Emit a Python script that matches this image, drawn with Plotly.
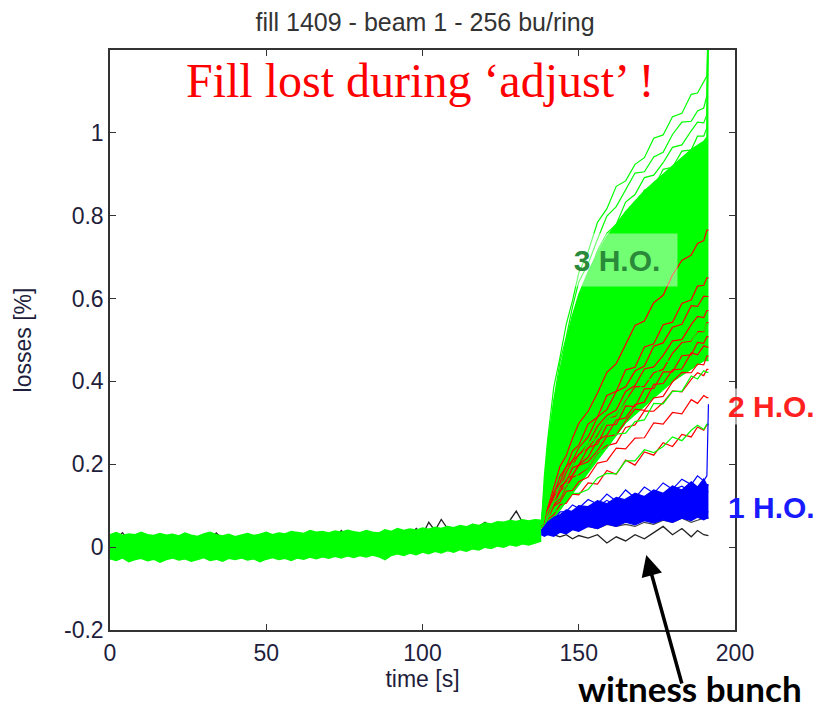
import plotly.graph_objects as go

# ---------------- data ----------------
t_base = [0, 2, 4, 6, 8, 10, 12, 14, 16, 18, 20, 22, 24, 26, 28, 30, 32, 34, 36, 38,
          40, 42, 44, 46, 48, 50, 52, 54, 56, 58, 60, 62, 64, 66, 68, 70, 72, 74, 76, 78,
          80, 82, 84, 86, 88, 90, 92, 94, 96, 98, 100, 102, 104, 106, 108, 110, 112, 114, 116, 118,
          120, 122, 124, 126, 128, 130, 132, 134, 136, 138]

band_upper = [0.030, 0.035, 0.028, 0.032, 0.030, 0.036, 0.030, 0.028, 0.033, 0.029,
              0.031, 0.027, 0.034, 0.029, 0.026, 0.032, 0.036, 0.030, 0.027, 0.031,
              0.025, 0.029, 0.033, 0.028, 0.031, 0.036, 0.030, 0.034, 0.032, 0.038,
              0.035, 0.033, 0.040, 0.036, 0.038, 0.034, 0.039, 0.036, 0.041, 0.037,
              0.035, 0.040, 0.036, 0.034, 0.042, 0.038, 0.045, 0.040, 0.044, 0.041,
              0.046, 0.043, 0.048, 0.045, 0.050, 0.047, 0.052, 0.049, 0.055, 0.052,
              0.058, 0.056, 0.061, 0.060, 0.064, 0.062, 0.066, 0.063, 0.066, 0.065]
band_lower = [-0.028, -0.032, -0.026, -0.035, -0.030, -0.027, -0.033, -0.029, -0.036, -0.030,
              -0.026, -0.031, -0.028, -0.034, -0.030, -0.025, -0.032, -0.029, -0.034, -0.027,
              -0.030, -0.026, -0.031, -0.028, -0.035, -0.029, -0.025, -0.030, -0.027, -0.032,
              -0.026, -0.029, -0.024, -0.028, -0.023, -0.027, -0.022, -0.026, -0.021, -0.025,
              -0.020, -0.024, -0.019, -0.023, -0.030, -0.020, -0.016, -0.020, -0.014, -0.018,
              -0.012, -0.016, -0.010, -0.014, -0.008, -0.012, -0.006, -0.010, -0.004, -0.007,
              0.000, -0.003, 0.003, 0.000, 0.006, 0.003, 0.008, 0.005, 0.010, 0.015]
witness_base = [0.010, 0.020, 0.035, 0.015, 0.020, 0.010, 0.025, 0.015, 0.020, 0.010,
                0.030, 0.020, 0.015, 0.010, 0.020, 0.025, 0.015, 0.034, 0.020, 0.010,
                0.020, 0.015, 0.025, 0.020, 0.030, 0.015, 0.020, 0.010, 0.025, 0.020,
                0.015, 0.030, 0.020, 0.025, 0.015, 0.030, 0.020, 0.040, 0.025, 0.030,
                0.020, 0.035, 0.025, 0.030, 0.020, 0.030, 0.025, 0.035, 0.030, 0.045,
                0.030, 0.060, 0.040, 0.067, 0.045, 0.040, 0.050, 0.045, 0.055, 0.050,
                0.060, 0.050, 0.055, 0.050, 0.065, 0.087, 0.060, 0.055, 0.060, 0.050]

t_rise = [138, 139, 140, 142, 144, 146, 148, 150, 153, 156, 159, 162, 165, 168, 171,
          174, 177, 180, 183, 186, 188, 190, 191, 191.5]

witness_rise = [0.050, 0.045, 0.035, 0.030, 0.025, 0.030, 0.020, 0.028, 0.022, 0.030, 0.010, 0.025,
                0.015, 0.030, 0.020, 0.035, 0.050, 0.030, 0.045, 0.025, 0.040, 0.030, 0.028, 0.028]
witness2_rise = [0.050, 0.050, 0.045, 0.040, 0.050, 0.045, 0.050, 0.045, 0.050, 0.045, 0.055, 0.050,
                 0.055, 0.050, 0.060, 0.055, 0.065, 0.060, 0.070, 0.060, 0.065, 0.070, 0.070, 0.070]

# 3 H.O. bunches (green): dense envelope + individual bunches
ho3_mass_upper = [0.05, 0.15, 0.24, 0.35, 0.43, 0.50, 0.56, 0.61, 0.665, 0.71, 0.75, 0.78,
                  0.81, 0.835, 0.86, 0.88, 0.90, 0.92, 0.94, 0.96, 0.97, 0.98, 0.99, 1.30]
ho3_mass_lower = [0.04, 0.04, 0.05, 0.07, 0.09, 0.11, 0.13, 0.15, 0.18, 0.21, 0.24, 0.27,
                  0.30, 0.32, 0.34, 0.36, 0.38, 0.40, 0.415, 0.43, 0.44, 0.45, 0.45, 0.45]
ho3_lines = [
    [0.05, 0.173, 0.256, 0.386, 0.458, 0.538, 0.595, 0.662, 0.713, 0.784, 0.817, 0.871,
     0.884, 0.924, 0.940, 0.987, 0.995, 1.039, 1.047, 1.093, 1.096, 1.126, 1.137, 1.30],
    [0.05, 0.154, 0.238, 0.354, 0.447, 0.507, 0.580, 0.640, 0.684, 0.743, 0.799, 0.822,
     0.864, 0.903, 0.906, 0.942, 0.953, 0.996, 1.026, 1.028, 1.053, 1.060, 1.090, 1.30],
    [0.05, 0.137, 0.225, 0.342, 0.414, 0.494, 0.559, 0.598, 0.652, 0.716, 0.758, 0.779,
     0.833, 0.851, 0.892, 0.898, 0.928, 0.965, 0.971, 1.005, 1.026, 1.024, 1.044, 1.30],
    [0.05, 0.128, 0.213, 0.315, 0.405, 0.466, 0.537, 0.574, 0.648, 0.676, 0.735, 0.753,
     0.810, 0.816, 0.862, 0.867, 0.912, 0.917, 0.956, 0.959, 0.992, 0.992, 1.012, 1.30],
]
ho3_low_lines = [
    [0.05, 0.047, 0.070, 0.085, 0.091, 0.114, 0.130, 0.130, 0.139, 0.167, 0.178, 0.177,
     0.208, 0.208, 0.235, 0.228, 0.243, 0.266, 0.257, 0.282, 0.294, 0.284, 0.297, 0.297],
    [0.05, 0.053, 0.070, 0.107, 0.121, 0.150, 0.155, 0.179, 0.193, 0.230, 0.239, 0.273,
     0.275, 0.303, 0.307, 0.347, 0.346, 0.376, 0.376, 0.413, 0.406, 0.426, 0.422, 0.422],
    [0.05, 0.048, 0.084, 0.111, 0.150, 0.166, 0.200, 0.208, 0.252, 0.263, 0.309, 0.313,
     0.360, 0.360, 0.404, 0.406, 0.448, 0.449, 0.489, 0.493, 0.524, 0.522, 0.539, 0.539],
]

# 2 H.O. bunches (red)
ho2_lines = [
    [0.05, 0.048, 0.068, 0.078, 0.102, 0.106, 0.128, 0.126, 0.155, 0.152, 0.185, 0.176,
     0.210, 0.198, 0.230, 0.222, 0.252, 0.243, 0.272, 0.266, 0.290, 0.282, 0.295, 0.295],
    [0.05, 0.053, 0.066, 0.099, 0.109, 0.135, 0.137, 0.158, 0.169, 0.203, 0.208, 0.239,
     0.237, 0.263, 0.264, 0.300, 0.297, 0.325, 0.322, 0.356, 0.347, 0.366, 0.361, 0.361],
    [0.05, 0.047, 0.079, 0.103, 0.117, 0.146, 0.169, 0.175, 0.192, 0.227, 0.245, 0.251,
     0.289, 0.295, 0.329, 0.328, 0.349, 0.377, 0.375, 0.405, 0.421, 0.414, 0.429, 0.429],
    [0.05, 0.054, 0.074, 0.099, 0.136, 0.147, 0.174, 0.197, 0.206, 0.233, 0.267, 0.271,
     0.304, 0.333, 0.330, 0.360, 0.364, 0.399, 0.422, 0.421, 0.442, 0.440, 0.461, 0.461],
    [0.05, 0.053, 0.074, 0.115, 0.133, 0.165, 0.173, 0.199, 0.217, 0.258, 0.270, 0.307,
     0.312, 0.344, 0.350, 0.393, 0.395, 0.428, 0.430, 0.469, 0.464, 0.486, 0.483, 0.483],
    [0.05, 0.048, 0.082, 0.107, 0.144, 0.158, 0.191, 0.198, 0.240, 0.249, 0.294, 0.296,
     0.341, 0.339, 0.382, 0.383, 0.423, 0.423, 0.462, 0.464, 0.494, 0.492, 0.508, 0.508],
    [0.05, 0.054, 0.079, 0.110, 0.152, 0.167, 0.198, 0.224, 0.238, 0.270, 0.308, 0.317,
     0.354, 0.387, 0.388, 0.421, 0.429, 0.468, 0.494, 0.497, 0.520, 0.520, 0.542, 0.542],
    [0.05, 0.047, 0.088, 0.122, 0.144, 0.181, 0.210, 0.222, 0.249, 0.292, 0.318, 0.331,
     0.376, 0.390, 0.430, 0.435, 0.463, 0.498, 0.501, 0.537, 0.557, 0.554, 0.571, 0.571],
    [0.05, 0.053, 0.081, 0.132, 0.156, 0.195, 0.208, 0.240, 0.266, 0.314, 0.332, 0.376,
     0.387, 0.425, 0.437, 0.485, 0.493, 0.531, 0.538, 0.583, 0.581, 0.606, 0.605, 0.605],
    [0.05, 0.048, 0.091, 0.126, 0.171, 0.193, 0.232, 0.246, 0.297, 0.314, 0.366, 0.376,
     0.428, 0.434, 0.483, 0.491, 0.537, 0.543, 0.588, 0.597, 0.630, 0.632, 0.650, 0.650],
    [0.05, 0.054, 0.093, 0.141, 0.195, 0.221, 0.263, 0.299, 0.328, 0.372, 0.422, 0.443,
     0.491, 0.535, 0.546, 0.590, 0.608, 0.657, 0.692, 0.705, 0.733, 0.740, 0.765, 0.765],
]

# 1 H.O. bunches (blue)
ho1_band_upper = [0.04, 0.05, 0.06, 0.072, 0.078, 0.09, 0.086, 0.10, 0.098, 0.112, 0.105, 0.12,
                  0.114, 0.13, 0.122, 0.138, 0.13, 0.148, 0.138, 0.158, 0.145, 0.165, 0.15, 0.15]
ho1_band_lower = [0.03, 0.026, 0.03, 0.026, 0.036, 0.032, 0.042, 0.038, 0.05, 0.045, 0.056, 0.05,
                  0.06, 0.054, 0.064, 0.058, 0.066, 0.06, 0.07, 0.064, 0.072, 0.066, 0.07, 0.07]
ho1_lines = [
    [0.04, 0.043, 0.058, 0.065, 0.085, 0.086, 0.102, 0.094, 0.115, 0.104, 0.128, 0.111,
     0.138, 0.119, 0.145, 0.130, 0.155, 0.140, 0.164, 0.151, 0.172, 0.160, 0.172, 0.345],
    [0.04, 0.037, 0.050, 0.057, 0.057, 0.074, 0.084, 0.078, 0.077, 0.096, 0.098, 0.089,
     0.111, 0.103, 0.122, 0.106, 0.115, 0.130, 0.114, 0.131, 0.139, 0.124, 0.134, 0.134],
    [0.035, 0.038, 0.033, 0.048, 0.044, 0.058, 0.048, 0.058, 0.053, 0.072, 0.063, 0.080,
     0.066, 0.078, 0.066, 0.090, 0.075, 0.091, 0.076, 0.099, 0.083, 0.094, 0.085, 0.085],
    [0.04, 0.046, 0.046, 0.054, 0.077, 0.074, 0.088, 0.098, 0.088, 0.098, 0.113, 0.100,
     0.116, 0.129, 0.111, 0.126, 0.116, 0.138, 0.147, 0.133, 0.145, 0.135, 0.151, 0.151],
]

x_ticks = [0, 50, 100, 150, 200]
y_ticks = [-0.2, 0, 0.2, 0.4, 0.6, 0.8, 1.0]
y_tick_text = ["-0.2", "0", "0.2", "0.4", "0.6", "0.8", "1"]

GREEN = "#00ff00"
RED = "#ff0000"
BLUE = "#0000ff"
SANS = "Liberation Sans, Arial"
TXT = "#1e1e3c"

fig = go.Figure()


def line(x, y, color, width=1.2):
    fig.add_trace(go.Scatter(x=x, y=y, mode="lines", line=dict(color=color, width=width),
                             hoverinfo="skip", showlegend=False))


def band(x, lower, upper, color, width=1.2):
    fig.add_trace(go.Scatter(x=x, y=lower, mode="lines", line=dict(color=color, width=width),
                             hoverinfo="skip", showlegend=False))
    fig.add_trace(go.Scatter(x=x, y=upper, mode="lines", line=dict(color=color, width=width),
                             fill="tonexty", fillcolor=color, hoverinfo="skip", showlegend=False))


# witness bunch (black) underneath everything
line(t_base + t_rise, witness_base + witness_rise, "#222222", 1.3)
line(t_rise, witness2_rise, "#444444", 1.2)

# all bunches before the loss onset
band(t_base, band_lower, band_upper, GREEN, 1.5)

# 3 H.O.
band(t_rise, ho3_mass_lower, ho3_mass_upper, GREEN, 1.2)
for y in ho3_lines:
    line(t_rise, y, GREEN, 1.2)

# 2 H.O.
for y in ho2_lines:
    line(t_rise, y, RED, 1.2)
for y in ho3_low_lines:
    line(t_rise, y, GREEN, 1.2)

# 1 H.O.
band(t_rise, ho1_band_lower, ho1_band_upper, BLUE, 1.2)
for y in ho1_lines:
    line(t_rise, y, BLUE, 1.2)

AX = dict(showline=True, linecolor="#333333", linewidth=1.5, mirror="ticks", ticks="inside",
          ticklen=6, tickcolor="#333333", showgrid=False, zeroline=False,
          tickfont=dict(family=SANS, size=23, color=TXT))

fig.update_layout(
    width=819, height=711,
    margin=dict(l=110, r=84, t=50, b=81),
    paper_bgcolor="white", plot_bgcolor="white",
    title=dict(text="fill 1409 - beam 1 - 256 bu/ring", x=0.519, xref="container",
               y=0.969, yanchor="middle", xanchor="center",
               font=dict(family=SANS, size=25, color="#333333")),
    xaxis=dict(range=[0, 200], tickvals=x_ticks, ticklabelstandoff=2,
               title=dict(text="time [s]", standoff=6, font=dict(family=SANS, size=23, color=TXT)),
               **AX),
    yaxis=dict(range=[-0.2, 1.2], tickvals=y_ticks, ticktext=y_tick_text,
               title=dict(text="losses [%]", standoff=26, font=dict(family=SANS, size=23, color=TXT)),
               **AX),
    annotations=[
        dict(text="Fill lost during \u2018adjust\u2019 !", xref="paper", yref="paper",
             x=0.496, y=0.9466, xanchor="center", yanchor="middle", showarrow=False,
             font=dict(family="Liberation Serif, Times New Roman", size=48, color="#ff0000")),
        dict(text="<b>3 H.O.</b>", xref="x", yref="y", x=162.3, y=0.693, xanchor="center",
             yanchor="middle", showarrow=False, width=118, height=50,
             bgcolor="rgba(255,255,255,0.45)",
             font=dict(family=SANS, size=30, color="#2a8a3a")),
        dict(text="<b>2 H.O.</b>", xref="paper", yref="paper", x=1.058, y=0.386,
             xanchor="center", yanchor="middle", showarrow=False,
             bgcolor="rgba(255,255,255,0.6)",
             font=dict(family=SANS, size=30, color="#ff2020")),
        dict(text="<b>1 H.O.</b>", xref="paper", yref="paper", x=1.058, y=0.212,
             xanchor="center", yanchor="middle", showarrow=False,
             font=dict(family=SANS, size=30, color="#1a1aff")),
        dict(text="", xref="x", yref="y", x=171.6, y=-0.019, ax=36, ay=130,
             showarrow=True, arrowhead=2, arrowwidth=3.5, arrowsize=1.2, arrowcolor="#000000"),
        dict(text="<b>witness bunch</b>", xref="paper", yref="paper", x=0.928, y=-0.1397,
             xanchor="center", yanchor="bottom", showarrow=False,
             font=dict(family="Lato, Liberation Sans", size=35, color="#000000")),
    ],
)

fig.write_html("out.html")
